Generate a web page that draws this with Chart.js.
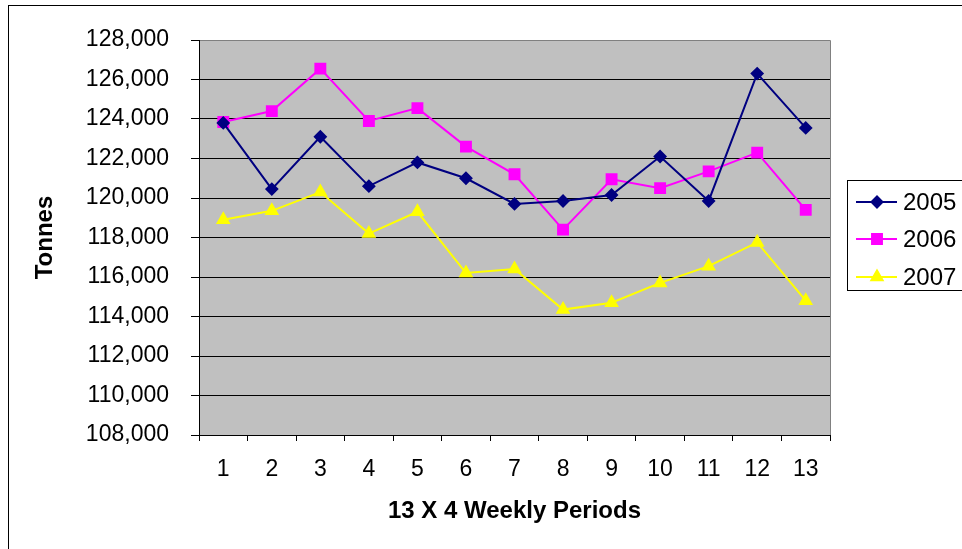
<!DOCTYPE html>
<html>
<head>
<meta charset="utf-8">
<script src="https://cdn.jsdelivr.net/npm/chart.js@4.4.1/dist/chart.umd.min.js"></script>
<style>
  html, body { margin: 0; padding: 0; background: #fff; }
</style>
</head>
<body>
<canvas id="chart" width="962" height="549"></canvas>
<script>
const periods = ["1", "2", "3", "4", "5", "6", "7", "8", "9", "10", "11", "12", "13"];
const seriesNames = ["2005", "2006", "2007"];
const tonnes2005 = [123800, 120450, 123100, 120600, 121800, 121000, 119700, 119850, 120150, 122100, 119850, 126300, 123550];
const tonnes2006 = [123850, 124400, 126550, 123900, 124550, 122600, 121200, 118400, 120950, 120500, 121350, 122300, 119400];
const tonnes2007 = [118900, 119350, 120300, 118200, 119300, 116200, 116400, 114350, 114700, 115700, 116550, 117750, 114800];
const yMin = 108000;
const yMax = 128000;
const yStep = 2000;
const xTitle = "13 X 4 Weekly Periods";
const yTitle = "Tonnes";

const font = "'Liberation Sans', Arial, sans-serif";
const ctx = document.getElementById("chart");

// grey plot area, outer frame and the legend box are drawn by hand
const frame = {
    id: "frame",
    beforeDraw(chart) {
        const { ctx, chartArea: a } = chart;
        ctx.save();
        ctx.fillStyle = "#C0C0C0";
        ctx.fillRect(a.left, a.top, a.right - a.left, a.bottom - a.top);
        ctx.strokeStyle = "#808080";
        ctx.lineWidth = 1;
        ctx.beginPath();
        ctx.moveTo(a.left, a.top + 0.5);
        ctx.lineTo(a.right + 0.5, a.top + 0.5);
        ctx.lineTo(a.right + 0.5, a.bottom);
        ctx.stroke();
        ctx.restore();
    },
    afterDraw(chart) {
        const { ctx } = chart;
        ctx.save();
        ctx.strokeStyle = "#000";
        ctx.lineWidth = 1;
        ctx.strokeRect(8.5, 5.5, 1000, 600);

        ctx.strokeRect(847.5, 180.5, 200, 110);
        const rows = [202, 239, 277];
        chart.data.datasets.forEach((ds, i) => {
            const y = rows[i];
            ctx.strokeStyle = ds.borderColor;
            ctx.lineWidth = 2;
            ctx.beginPath();
            ctx.moveTo(856, y);
            ctx.lineTo(897, y);
            ctx.stroke();
            ctx.fillStyle = ds.pointBackgroundColor;
            ctx.strokeStyle = ds.pointBorderColor;
            Chart.helpers.drawPoint(ctx, {
                pointStyle: ds.pointStyle,
                radius: ds.pointRadius,
                rotation: 0,
                borderWidth: 1,
            }, 877, y);
            ctx.fillStyle = "#000";
            ctx.font = "24px " + font;
            ctx.textBaseline = "middle";
            ctx.textAlign = "left";
            ctx.fillText(ds.label, 903, y + 1);
        });
        ctx.restore();
    },
};

new Chart(ctx, {
    type: "line",
    data: {
        labels: periods,
        datasets: [
            {
                label: seriesNames[0],
                data: tonnes2005,
                borderColor: "#000080",
                borderWidth: 2,
                pointStyle: "rectRot",
                pointRadius: 5.5,
                pointBackgroundColor: "#000080",
                pointBorderColor: "#000080",
            },
            {
                label: seriesNames[1],
                data: tonnes2006,
                borderColor: "#FF00FF",
                borderWidth: 2,
                pointStyle: "rect",
                pointRadius: 7,
                pointBackgroundColor: "#FF00FF",
                pointBorderColor: "#FF00FF",
            },
            {
                label: seriesNames[2],
                data: tonnes2007,
                borderColor: "#FFFF00",
                borderWidth: 2,
                pointStyle: "triangle",
                pointRadius: 6.5,
                pointBackgroundColor: "#FFFF00",
                pointBorderColor: "#FFFF00",
            },
        ],
    },
    options: {
        responsive: false,
        animation: false,
        devicePixelRatio: 1,
        layout: {
            padding: { left: 24, top: 40, right: 132, bottom: 10 },
        },
        plugins: {
            legend: { display: false },
            tooltip: { enabled: false },
        },
        scales: {
            x: {
                offset: true,
                grid: {
                    offset: true,
                    drawOnChartArea: false,
                    tickLength: 6,
                    color: "#000",
                },
                border: { color: "#000", width: 1 },
                ticks: {
                    color: "#000",
                    padding: 15,
                    maxRotation: 0,
                    autoSkip: false,
                    font: { family: font, size: 23 },
                },
                title: {
                    display: true,
                    text: xTitle,
                    color: "#000",
                    padding: { top: 0, bottom: 13 },
                    font: { family: font, size: 24, weight: "bold" },
                },
                afterFit(scale) {
                    scale.height = 104;
                },
            },
            y: {
                min: yMin,
                max: yMax,
                grid: {
                    color: (c) => (c.tick && c.tick.value === yMax ? "#808080" : "#000"),
                    tickColor: "#000",
                    tickLength: 8,
                },
                border: { color: "#000", width: 1 },
                ticks: {
                    stepSize: yStep,
                    color: "#000",
                    padding: 22,
                    font: { family: font, size: 23 },
                    callback: (v) => v.toLocaleString("en-US"),
                },
                title: {
                    display: true,
                    text: yTitle,
                    color: "#000",
                    padding: { top: 7, bottom: 0 },
                    font: { family: font, size: 24, weight: "bold" },
                },
                afterFit(scale) {
                    scale.width = 175;
                },
            },
        },
    },
    plugins: [frame],
});
</script>
</body>
</html>
